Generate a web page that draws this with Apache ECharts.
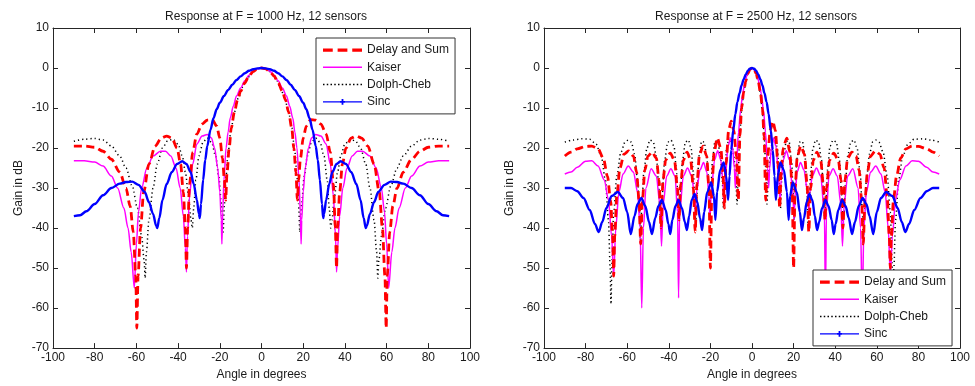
<!DOCTYPE html>
<html><head><meta charset="utf-8">
<script src="https://cdn.jsdelivr.net/npm/echarts@6/dist/echarts.min.js"></script>
<style>html,body{margin:0;padding:0;background:#fff}#c{width:975px;height:386px}</style>
</head><body><div id="c"></div>
<script>
const titles = ['Response at F = 1000 Hz, 12 sensors', 'Response at F = 2500 Hz, 12 sensors'];
const seriesNames = ['Delay and Sum', 'Kaiser', 'Dolph-Cheb', 'Sinc'];
const xTicks = [-100, -80, -60, -40, -20, 0, 20, 40, 60, 80, 100];
const yTicks = [-70, -60, -50, -40, -30, -20, -10, 0, 10];

// ---- F = 1000 Hz ----
const ds1000 = [[-90,-19.5],[-85,-19.5],[-80,-19.8],[-76,-20.8],[-72,-22.8],[-68,-26],[-65,-30],[-63,-34.5],[-61.5,-41],[-60.3,-52],[-59.8,-65],[-59.2,-52],[-58,-40],[-56.5,-31],[-54,-24],[-51,-19.5],[-48,-17.5],[-45.5,-17],[-43,-17.5],[-40.5,-20],[-38.8,-24],[-37.5,-31],[-36.5,-40],[-36,-50],[-35.4,-40],[-34.5,-29],[-33,-21],[-31,-16.5],[-28.5,-14],[-26,-13],[-23.6,-12.9],[-21.5,-14.5],[-20,-17.5],[-18.7,-22.5],[-17.8,-28],[-17.2,-33],[-16.5,-26],[-15.5,-20],[-14.5,-15],[-13,-11],[-11.5,-8],[-10,-5.8],[-8,-3.7],[-6,-2],[-4,-0.9],[-2,-0.2],[0,0],
[2,-0.2],[4,-0.9],[6,-2],[8,-3.7],[10,-5.8],[11.5,-8],[13,-11],[14.5,-15],[15.5,-20],[16.5,-26],[17.2,-33],[17.8,-28],[18.7,-22.5],[20,-17.5],[21.5,-14.5],[23.6,-12.9],[26,-13],[28.5,-14],[31,-16.5],[33,-21],[34.5,-29],[35.4,-40],[36,-50],[36.5,-40],[37.5,-31],[38.8,-24],[40.5,-20],[43,-17.5],[45.5,-17],[48,-17.5],[51,-19.5],[54,-24],[56.5,-31],[58,-40],[59.2,-52],[59.8,-65],[60.3,-52],[61.5,-41],[63,-34.5],[65,-30],[68,-26],[72,-22.8],[76,-20.8],[80,-19.8],[85,-19.5],[90,-19.5]];
const ks1000 = [[-90,-23.2],[-85,-23.2],[-80,-23.5],[-76,-24.5],[-72,-27],[-69,-30],[-66,-35],[-64,-40],[-62.5,-46],[-61,-55],[-60,-44],[-59,-36],[-57.5,-30],[-55,-25],[-52,-22],[-48.5,-20.8],[-46,-20.8],[-43.5,-22],[-41,-25],[-39,-30],[-37.5,-37],[-36.5,-45],[-36,-51],[-35.5,-42],[-34.5,-32],[-33,-24],[-31,-19],[-28.5,-17],[-26,-16.6],[-24,-17.5],[-22.5,-20],[-21,-25],[-20,-31],[-19.3,-38],[-19,-44],[-18.6,-36],[-18,-28],[-17,-20],[-16,-16],[-15,-12.5],[-13.5,-9.5],[-12,-7],[-10,-5],[-8,-3.2],[-6,-1.8],[-4,-0.8],[-2,-0.2],[0,0],
[2,-0.2],[4,-0.8],[6,-1.8],[8,-3.2],[10,-5],[12,-7],[13.5,-9.5],[15,-12.5],[16,-16],[17,-20],[18,-28],[18.6,-36],[19,-44],[19.3,-38],[20,-31],[21,-25],[22.5,-20],[24,-17.5],[26,-16.6],[28.5,-17],[31,-19],[33,-24],[34.5,-32],[35.5,-42],[36,-51],[36.5,-45],[37.5,-37],[39,-30],[41,-25],[43.5,-22],[46,-20.8],[48.5,-20.8],[52,-22],[55,-25],[57.5,-30],[59,-36],[60,-44],[61,-55],[62.5,-46],[64,-40],[66,-35],[69,-30],[72,-27],[76,-24.5],[80,-23.5],[85,-23.2],[90,-23.2]];
const dc1000 = [[-90,-18.3],[-85,-17.8],[-80,-17.6],[-76,-18],[-72,-19.5],[-68,-22],[-65,-25],[-62,-29.5],[-59.5,-35],[-57.5,-42],[-56.3,-48],[-55.8,-52.5],[-55.2,-46],[-54,-38],[-52,-30],[-50,-24],[-47.5,-20],[-45,-18.2],[-42.5,-17.8],[-40,-19],[-38,-22],[-36.5,-26],[-35,-32],[-33.8,-38],[-33.2,-40],[-32.5,-35],[-31.5,-28],[-30,-22],[-28,-18.5],[-26,-17.5],[-24,-18.5],[-22,-22],[-20.5,-27],[-19.2,-34],[-18.4,-41],[-17.8,-34],[-17,-27],[-16,-21],[-14.5,-15],[-13,-11],[-11,-7.3],[-9,-4.8],[-7,-2.8],[-5,-1.4],[-3,-0.5],[-1.5,-0.1],[0,0],
[1.5,-0.1],[3,-0.5],[5,-1.4],[7,-2.8],[9,-4.8],[11,-7.3],[13,-11],[14.5,-15],[16,-21],[17,-27],[17.8,-34],[18.4,-41],[19.2,-34],[20.5,-27],[22,-22],[24,-18.5],[26,-17.5],[28,-18.5],[30,-22],[31.5,-28],[32.5,-35],[33.2,-40],[33.8,-38],[35,-32],[36.5,-26],[38,-22],[40,-19],[42.5,-17.8],[45,-18.2],[47.5,-20],[50,-24],[52,-30],[54,-38],[55.2,-46],[55.8,-52.5],[56.3,-48],[57.5,-42],[59.5,-35],[62,-29.5],[65,-25],[68,-22],[72,-19.5],[76,-18],[80,-17.6],[85,-17.8],[90,-18.3]];
const sc1000 = [[-90,-37],[-87,-36.8],[-84,-35.8],[-80,-34],[-76,-31.8],[-72,-30],[-68,-28.9],[-65,-28.5],[-62,-28.4],[-59,-29.2],[-56,-31],[-54,-33.5],[-52,-36.5],[-50.5,-39.5],[-50,-40],[-49,-37.5],[-47.5,-33],[-45.5,-29],[-43,-26],[-40.5,-24],[-38,-23.3],[-36,-24],[-34,-26],[-32.5,-29],[-31,-33],[-30,-36.5],[-29.6,-37.5],[-29,-34],[-28,-28],[-27,-23],[-26,-19.5],[-24.5,-15.5],[-23,-12.5],[-21.5,-10.3],[-20,-8.7],[-18,-7],[-16,-5.5],[-14,-4.2],[-12,-3],[-10,-2.1],[-8,-1.3],[-6,-0.7],[-4,-0.3],[-2,-0.1],[0,0],
[2,-0.1],[4,-0.3],[6,-0.7],[8,-1.3],[10,-2.1],[12,-3],[14,-4.2],[16,-5.5],[18,-7],[20,-8.7],[21.5,-10.3],[23,-12.5],[24.5,-15.5],[26,-19.5],[27,-23],[28,-28],[29,-34],[29.6,-37.5],[30,-36.5],[31,-33],[32.5,-29],[34,-26],[36,-24],[38,-23.3],[40.5,-24],[43,-26],[45.5,-29],[47.5,-33],[49,-37.5],[50,-40],[50.5,-39.5],[52,-36.5],[54,-33.5],[56,-31],[59,-29.2],[62,-28.4],[65,-28.5],[68,-28.9],[72,-30],[76,-31.8],[80,-34],[84,-35.8],[87,-36.8],[90,-37]];

// ---- F = 2500 Hz ----
const ds2500 = [[-90,-22],[-87,-21],[-84,-20.2],[-80,-19.6],[-77,-19.5],[-74,-20.2],[-71.5,-22.5],[-69.5,-27],[-68,-33],[-67,-42],[-66.5,-52],[-66,-42],[-65,-32],[-63.5,-25],[-61.5,-21.5],[-59.3,-20.7],[-57,-22],[-55.5,-26],[-54.3,-33],[-53.5,-44],[-52.7,-33],[-51.5,-25.5],[-50,-22],[-48,-21],[-46,-22.5],[-44.7,-28],[-43.7,-40],[-42.8,-28],[-41.5,-23],[-39.3,-21.3],[-37.3,-23],[-35.8,-30],[-35.1,-38],[-34.3,-29],[-33,-23],[-31.2,-21],[-29.5,-23],[-28.2,-30],[-27.3,-41],[-26.5,-29],[-25.2,-21.5],[-23.5,-19.5],[-21.8,-22],[-20.7,-30],[-20,-50],[-19.3,-30],[-18.2,-21],[-16.7,-17.5],[-15,-20],[-14,-26],[-13.3,-35],[-12.5,-24],[-11.2,-15.5],[-10,-13.3],[-8.8,-15.5],[-7.5,-22],[-6.6,-33],[-5.8,-17],[-5,-10],[-4,-6],[-3,-3.3],[-2,-1.4],[-1,-0.35],[0,0],
[1,-0.35],[2,-1.4],[3,-3.3],[4,-6],[5,-10],[5.8,-17],[6.6,-33],[7.5,-22],[8.8,-15.5],[10,-13.3],[11.2,-15.5],[12.5,-24],[13.3,-35],[14,-26],[15,-20],[16.7,-17.5],[18.2,-21],[19.3,-30],[20,-50],[20.7,-30],[21.8,-22],[23.5,-19.5],[25.2,-21.5],[26.5,-29],[27.3,-41],[28.2,-30],[29.5,-23],[31.2,-21],[33,-23],[34.3,-29],[35.1,-38],[35.8,-30],[37.3,-23],[39.3,-21.3],[41.5,-23],[42.8,-28],[43.7,-40],[44.7,-28],[46,-22.5],[48,-21],[50,-22],[51.5,-25.5],[52.7,-33],[53.5,-44],[54.3,-33],[55.5,-26],[57,-22],[59.3,-20.7],[61.5,-21.5],[63.5,-25],[65,-32],[66,-42],[66.5,-50],[67,-42],[68,-33],[69.5,-27],[71.5,-22.5],[74,-20.2],[77,-19.5],[80,-19.6],[84,-20.2],[87,-21],[90,-22]];
const ks2500 = [[-90,-26.5],[-87,-26],[-84,-24.8],[-80,-23.3],[-77,-23.2],[-74,-24.5],[-71,-28],[-69,-33],[-67.5,-42],[-66.5,-52],[-65.5,-40],[-64,-31],[-62,-26.5],[-59.5,-24.5],[-57,-26],[-55,-31],[-53.8,-40],[-53,-60],[-52.2,-40],[-51,-30],[-48.5,-25.2],[-46,-27],[-44.3,-34],[-43.5,-44.5],[-42.7,-34],[-41,-27],[-39,-25.2],[-37,-27],[-35.8,-36],[-35.3,-57.5],[-34.8,-36],[-33,-27],[-31,-25],[-29,-27],[-27.8,-31],[-27.3,-36],[-26.7,-31],[-25,-25.5],[-23.3,-23.6],[-21.7,-26],[-20.7,-32],[-20.2,-38],[-19.6,-31],[-18,-23],[-16.5,-20.7],[-15,-23],[-14,-28],[-13.5,-34],[-12.9,-28],[-11.5,-19.5],[-10.3,-17.5],[-9.3,-20],[-8.5,-25],[-8,-30],[-7.5,-25],[-6.5,-16],[-5.5,-10.5],[-4.5,-6.5],[-3.5,-3.8],[-2.5,-2],[-1.5,-0.7],[0,0],
[1.5,-0.7],[2.5,-2],[3.5,-3.8],[4.5,-6.5],[5.5,-10.5],[6.5,-16],[7.5,-25],[8,-30],[8.5,-25],[9.3,-20],[10.3,-17.5],[11.5,-19.5],[12.9,-28],[13.5,-34],[14,-28],[15,-23],[16.5,-20.7],[18,-23],[19.6,-31],[20.2,-38],[20.7,-32],[21.7,-26],[23.3,-23.6],[25,-25.5],[26.7,-31],[27.3,-36],[27.8,-31],[29,-27],[31,-25],[33,-27],[34.8,-36],[35.3,-57.5],[35.8,-36],[37,-27],[39,-25.2],[41,-27],[42.7,-34],[43.5,-44.5],[44.3,-34],[46,-27],[48.5,-25.2],[51,-30],[52.2,-40],[53,-60],[53.8,-40],[55,-31],[57,-26],[59.5,-24.5],[62,-26.5],[64,-31],[65.5,-40],[66.5,-52],[67.5,-42],[69,-33],[71,-28],[74,-24.5],[77,-23.2],[80,-23.3],[84,-24.8],[87,-26],[90,-26.5]];
const dc2500 = [[-90,-18.5],[-86,-18],[-82,-17.7],[-78,-17.8],[-75,-19],[-72.5,-22],[-70.5,-28],[-69,-38],[-68.2,-50],[-67.8,-59],[-67.3,-48],[-66.5,-36],[-65,-27],[-63,-21],[-61,-18.5],[-59.5,-18],[-58,-18.5],[-56.5,-21.5],[-55,-28],[-54.2,-35],[-53.6,-43],[-53,-35],[-52,-26],[-50.5,-20],[-49,-18],[-47.5,-18.5],[-46,-22],[-45,-28],[-44.3,-36],[-43.8,-40],[-43.2,-32],[-42,-23],[-40.5,-18.5],[-39,-18],[-37.5,-19.5],[-36.4,-25],[-35.6,-33],[-35,-38],[-34.4,-31],[-33.4,-23],[-32,-18.5],[-30.6,-18],[-29.3,-20],[-28.2,-26],[-27.5,-34],[-27,-39],[-26.4,-31],[-25.5,-22],[-24.2,-18.3],[-23,-18.5],[-21.8,-22],[-20.9,-28],[-20.3,-38],[-19.8,-31],[-19,-23],[-17.8,-18.3],[-16.5,-18.3],[-15.2,-22],[-14.3,-28],[-13.7,-35],[-13.1,-28],[-12.2,-20],[-11,-17.5],[-9.8,-18.5],[-8.7,-22],[-7.8,-28],[-7.2,-34],[-6.6,-25],[-5.8,-16],[-5,-10.5],[-4,-6.3],[-3,-3.5],[-2,-1.5],[-1,-0.4],[0,0],
[1,-0.4],[2,-1.5],[3,-3.5],[4,-6.3],[5,-10.5],[5.8,-16],[6.6,-25],[7.2,-34],[7.8,-28],[8.7,-22],[9.8,-18.5],[11,-17.5],[12.2,-20],[13.1,-28],[13.7,-35],[14.3,-28],[15.2,-22],[16.5,-18.3],[17.8,-18.3],[19,-23],[19.8,-31],[20.3,-38],[20.9,-28],[21.8,-22],[23,-18.5],[24.2,-18.3],[25.5,-22],[26.4,-31],[27,-39],[27.5,-34],[28.2,-26],[29.3,-20],[30.6,-18],[32,-18.5],[33.4,-23],[34.4,-31],[35,-38],[35.6,-33],[36.4,-25],[37.5,-19.5],[39,-18],[40.5,-18.5],[42,-23],[43.2,-32],[43.8,-40],[44.3,-36],[45,-28],[46,-22],[47.5,-18.5],[49,-18],[50.5,-20],[52,-26],[53,-35],[53.6,-43],[54.2,-35],[55,-28],[56.5,-21.5],[58,-18.5],[59.5,-18],[61,-18.5],[63,-21],[65,-27],[66.5,-36],[67.3,-48],[67.8,-59],[68.2,-50],[69,-38],[70.5,-28],[72.5,-22],[75,-19],[78,-17.8],[82,-17.7],[86,-18],[90,-18.5]];
const sc2500 = [[-90,-30],[-87,-30],[-84,-30.8],[-81,-32.5],[-78,-35.5],[-75.5,-39],[-73.7,-41],[-72,-38.5],[-70,-35],[-67.5,-32],[-64.5,-31],[-62,-32.5],[-60,-36],[-58.3,-41.5],[-56.5,-37],[-55,-34],[-53.2,-32.5],[-51.3,-34.5],[-49.5,-38.5],[-48.1,-41.5],[-46.5,-37.5],[-45,-34.5],[-43.3,-33],[-41.5,-35.5],[-40.2,-39],[-39.3,-41.5],[-38.3,-38],[-36.8,-34.5],[-35.3,-33],[-33.7,-35],[-32.3,-38.5],[-31.3,-40.5],[-30.2,-37],[-29,-33],[-27.6,-31.5],[-26.3,-33.5],[-25,-37.5],[-24,-40.5],[-23,-36],[-21.5,-31],[-19.6,-28.6],[-18.3,-32],[-17.6,-38],[-16.8,-31],[-15.3,-25.5],[-13.6,-23.6],[-12.4,-27],[-11.5,-33],[-10.8,-27],[-10,-20.5],[-9,-15.5],[-8,-11.5],[-7,-8.5],[-6,-6.3],[-5,-4.3],[-4,-2.8],[-3,-1.6],[-2,-0.7],[-1,-0.2],[0,0],
[1,-0.2],[2,-0.7],[3,-1.6],[4,-2.8],[5,-4.3],[6,-6.3],[7,-8.5],[8,-11.5],[9,-15.5],[10,-20.5],[10.8,-27],[11.5,-33],[12.4,-27],[13.6,-23.6],[15.3,-25.5],[16.8,-31],[17.6,-38],[18.3,-32],[19.6,-28.6],[21.5,-31],[23,-36],[24,-40.5],[25,-37.5],[26.3,-33.5],[27.6,-31.5],[29,-33],[30.2,-37],[31.3,-40.5],[32.3,-38.5],[33.7,-35],[35.3,-33],[36.8,-34.5],[38.3,-38],[39.3,-41.5],[40.2,-39],[41.5,-35.5],[43.3,-33],[45,-34.5],[46.5,-37.5],[48.1,-41.5],[49.5,-38.5],[51.3,-34.5],[53.2,-32.5],[55,-34],[56.5,-37],[58.3,-41.5],[60,-36],[62,-32.5],[64.5,-31],[67.5,-32],[70,-35],[72,-38.5],[73.7,-41],[75.5,-39],[78,-35.5],[81,-32.5],[84,-30.8],[87,-30],[90,-30]];

const panels = [[ds1000, ks1000, dc1000, sc1000], [ds2500, ks2500, dc2500, sc2500]];

const FONT = 'Liberation Sans, Arial, sans-serif';
const TXT = '#1a1a1a';
const chart = echarts.init(document.getElementById('c'), null, {renderer: 'canvas'});
const gridPos = [{left: 53, top: 28, width: 417, height: 322}, {left: 544, top: 28, width: 416, height: 322}];
const axisColor = '#262626';
const styles = [
  {color: '#ff0000', lineStyle: {width: 2.8, type: [8, 4.5]}},
  {color: '#ff00ff', lineStyle: {width: 1.5, type: 'solid'}},
  {color: '#000000', lineStyle: {width: 1.5, type: [1.2, 3]}},
  {color: '#0000ff', lineStyle: {width: 2.4, type: 'solid'}}
];

// legend icon shapes (styling only)
let dots = '';
for (let i = 0; i < 11; i++) dots += 'M' + (i * 3.75) + ',0h1.5v1.5h-1.5z';
const legendIcons = [
  'path://M0,0h9v3h-9zM13.5,0h9v3h-9zM27,0h9v3h-9z',
  'path://M0,0h39v1.4h-39z',
  'path://' + dots,
  'path://M0,2.1h39v1.4h-39zM18.6,0h1.8v5.6h-1.8zM17,2h5v1.6h-5z'
];

const xAxes = [], yAxes = [], series = [];
gridPos.forEach((g, gi) => {
  const base = {type: 'value', gridIndex: gi, splitLine: {show: false},
    axisLine: {show: true, onZero: false, lineStyle: {color: axisColor, width: 1}},
    axisTick: {show: true, inside: true, length: 5, lineStyle: {color: axisColor}}};
  xAxes.push(Object.assign({}, base, {min: xTicks[0], max: xTicks[xTicks.length-1], interval: 20, position: 'bottom',
    name: 'Angle in degrees', nameLocation: 'middle', nameGap: 20,
    nameTextStyle: {fontFamily: FONT, fontSize: 12, color: TXT},
    axisLabel: {fontFamily: FONT, fontSize: 12, color: TXT, margin: 4}}));
  xAxes.push(Object.assign({}, base, {min: xTicks[0], max: xTicks[xTicks.length-1], interval: 20, position: 'top', axisLabel: {show: false}}));
  yAxes.push(Object.assign({}, base, {min: yTicks[0], max: yTicks[yTicks.length-1], interval: 10, position: 'left',
    name: 'Gain in dB', nameLocation: 'middle', nameGap: 28, nameRotate: 90,
    nameTextStyle: {fontFamily: FONT, fontSize: 12, color: TXT},
    axisLabel: {fontFamily: FONT, fontSize: 12, color: TXT, margin: 4}}));
  yAxes.push(Object.assign({}, base, {min: yTicks[0], max: yTicks[yTicks.length-1], interval: 10, position: 'right', axisLabel: {show: false}}));
  panels[gi].forEach((d, si) => {
    series.push({type: 'line', name: seriesNames[si], xAxisIndex: gi*2, yAxisIndex: gi*2, data: d,
      smooth: 0.3, smoothMonotone: 'x', symbol: 'none', showSymbol: false,
      color: styles[si].color, lineStyle: styles[si].lineStyle, animation: false, z: si === 3 ? 5 : 3 - si});
  });
});
const legendData = seriesNames.map((n, i) => ({name: n, icon: legendIcons[i], itemStyle: {borderWidth: 0}}));
const legendBase = {orient: 'vertical', itemWidth: 39, itemHeight: 10, itemGap: 5.3, padding: [6, 6, 6, 7],
  backgroundColor: '#fff', borderColor: '#333', borderWidth: 1, borderRadius: 0, itemStyle: {borderWidth: 0},
  textStyle: {fontFamily: FONT, fontSize: 12, color: TXT}, selectedMode: false, data: legendData};
chart.setOption({
  animation: false,
  title: [
    {text: titles[0], left: 261, top: 6, textAlign: 'center', textStyle: {fontFamily: FONT, fontSize: 12, fontWeight: 'normal', color: TXT}},
    {text: titles[1], left: 751, top: 6, textAlign: 'center', textStyle: {fontFamily: FONT, fontSize: 12, fontWeight: 'normal', color: TXT}}
  ],
  grid: gridPos,
  xAxis: xAxes, yAxis: yAxes,
  legend: [Object.assign({}, legendBase, {left: 316, top: 38}), Object.assign({}, legendBase, {left: 813, top: 270})],
  series: series
});
</script></body></html>
